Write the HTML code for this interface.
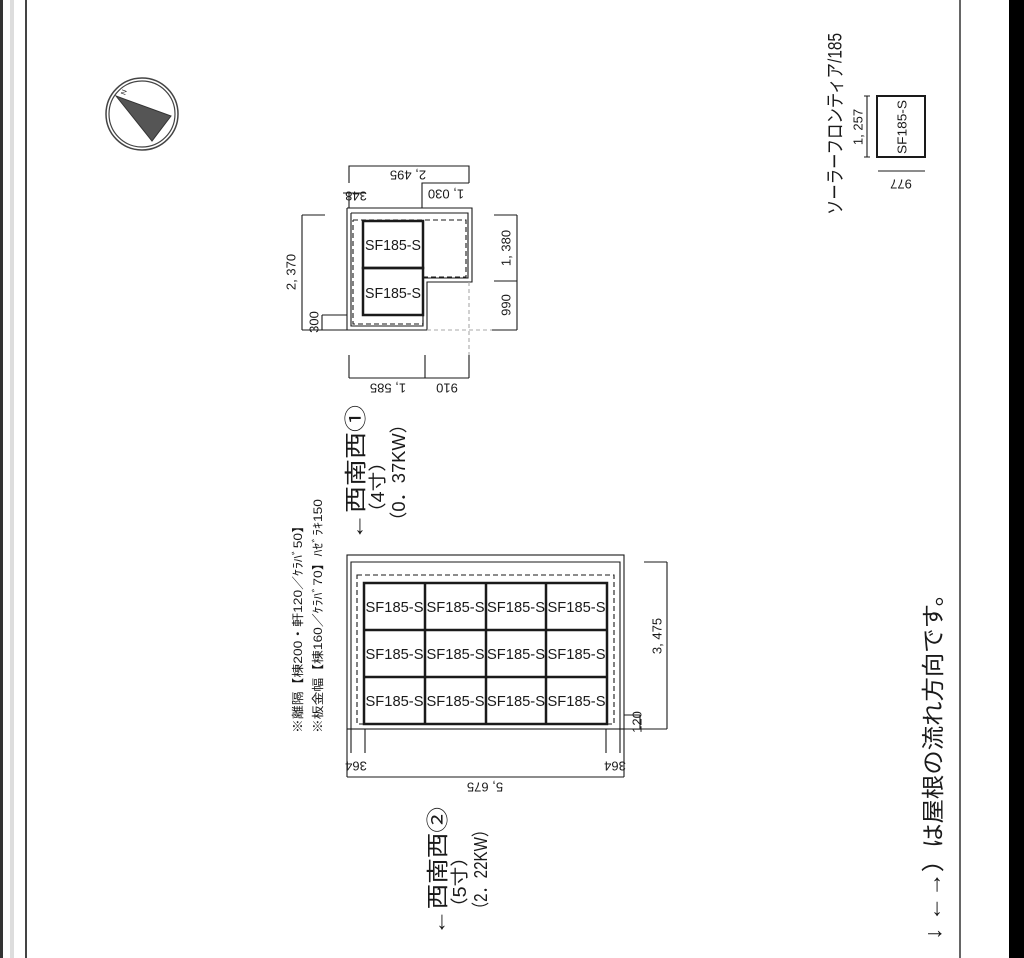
<!DOCTYPE html>
<html><head><meta charset="utf-8"><style>
html,body{margin:0;padding:0;background:#fff;}
svg{display:block;}
text{font-family:"Liberation Sans","Noto Sans CJK JP",sans-serif;fill:#1a1a1a;}
</style></head><body>
<svg width="1024" height="958" viewBox="0 0 1024 958" xmlns="http://www.w3.org/2000/svg">
<rect width="1024" height="958" fill="#fff"/>
<rect x="0" y="0" width="3" height="958" fill="#333"/>
<rect x="10" y="0" width="4" height="958" fill="#ddd"/>
<rect x="25" y="0" width="2" height="958" fill="#444"/>
<rect x="959" y="0" width="2" height="958" fill="#666"/>
<rect x="1009" y="0" width="15" height="958" fill="#000"/>

<circle cx="142" cy="114" r="36" fill="none" stroke="#444" stroke-width="1.5"/>
<circle cx="142" cy="114" r="33" fill="none" stroke="#444" stroke-width="1.2"/>
<polygon points="116,96 171,116 152,141" fill="#555" stroke="#333" stroke-width="1"/>
<text transform="translate(126,93) rotate(-70)" font-size="7" text-anchor="middle">N</text>

<g stroke="#1a1a1a" fill="none" stroke-width="1.1">
<polyline points="349,183 349,166 469,166 469,183"/>
<polyline points="422,208 422,183 469,183"/>
<polyline points="347,208 472,208 472,282 427,282 427,330 347,330 347,208"/>
<polyline points="351,213 468,213 468,278 423,278 423,326 351,326 351,213"/>
<polyline points="353,220 466,220 466,277 423,277 423,324 353,324 353,220" stroke-dasharray="5,3"/>
<path d="M349,193 L349,208 M343,193 L365,193"/>
<rect x="363" y="221" width="60" height="47" stroke-width="2.5"/>
<rect x="363" y="268" width="60" height="47" stroke-width="2.5"/>
<path d="M517,215 L517,330 M494,215 L517,215 M494,281 L517,281 M492,330 L517,330"/>
<path d="M302,215 L302,330 M302,215 L325,215 M302,330 L347,330 M322,315 L322,330 M322,315 L347,315"/>
<path d="M469,282 L469,355 M427,330 L492,330" stroke="#aaa" stroke-dasharray="4,3"/>
<path d="M349,378 L469,378 M349,355 L349,378 M425,355 L425,378 M469,355 L469,378"/>

<rect x="347" y="555" width="277" height="174"/>
<polyline points="351,753 351,562 620,562 620,753"/>
<rect x="357" y="575" width="257" height="149" stroke-dasharray="5,3"/>
<path d="M365,729 L365,753 M606,729 L606,753 M347,729 L347,777 M624,729 L624,777 M347,777 L624,777"/>
<path d="M667,562 L667,729 M644,562 L667,562 M624,729 L667,729 M640,715 L640,729 M624,715 L640,715"/>
<g stroke-width="2.5">
<rect x="364" y="583" width="243" height="141"/>
<path d="M425,583 L425,724 M486,583 L486,724 M546,583 L546,724 M364,630 L607,630 M364,677 L607,677"/>
</g>

<rect x="877" y="96" width="48" height="61" stroke-width="2"/>
<path d="M867,96 L867,157 M864,96 L870,96 M864,157 L870,157 M878,171 L925,171"/>
</g>

<g font-size="13">
<text transform="translate(408,175) rotate(180)" text-anchor="middle" dominant-baseline="central">2, 495</text>
<text transform="translate(356,196) rotate(180)" text-anchor="middle" dominant-baseline="central">348</text>
<text transform="translate(446,194) rotate(180)" text-anchor="middle" dominant-baseline="central">1, 030</text>
<text transform="translate(506,248) rotate(-90)" text-anchor="middle" dominant-baseline="central">1, 380</text>
<text transform="translate(506,305) rotate(-90)" text-anchor="middle" dominant-baseline="central">990</text>
<text transform="translate(291,272) rotate(-90)" text-anchor="middle" dominant-baseline="central">2, 370</text>
<text transform="translate(314,322) rotate(-90)" text-anchor="middle" dominant-baseline="central">300</text>
<text transform="translate(388,388) rotate(180)" text-anchor="middle" dominant-baseline="central">1, 585</text>
<text transform="translate(447,388) rotate(180)" text-anchor="middle" dominant-baseline="central">910</text>
<text x="393" y="250" text-anchor="middle" textLength="56" lengthAdjust="spacingAndGlyphs" font-size="15">SF185-S</text>
<text x="393" y="298" text-anchor="middle" textLength="56" lengthAdjust="spacingAndGlyphs" font-size="15">SF185-S</text>

<text transform="translate(485,787) rotate(180)" text-anchor="middle" dominant-baseline="central">5, 675</text>
<text transform="translate(356,766) rotate(180)" text-anchor="middle" dominant-baseline="central">364</text>
<text transform="translate(615,766) rotate(180)" text-anchor="middle" dominant-baseline="central">364</text>
<text transform="translate(657,636) rotate(-90)" text-anchor="middle" dominant-baseline="central">3, 475</text>
<text transform="translate(637,722) rotate(-90)" text-anchor="middle" dominant-baseline="central">120</text>
<text transform="translate(858,127) rotate(-90)" text-anchor="middle" dominant-baseline="central">1, 257</text>
<text transform="translate(901,184) rotate(180)" text-anchor="middle" dominant-baseline="central">977</text>
<text transform="translate(902,127) rotate(-90)" text-anchor="middle" dominant-baseline="central" textLength="54" lengthAdjust="spacingAndGlyphs">SF185-S</text>
</g>
<g font-size="15" text-anchor="middle">
<text x="394.5" y="612" textLength="58" lengthAdjust="spacingAndGlyphs">SF185-S</text>
<text x="455.5" y="612" textLength="58" lengthAdjust="spacingAndGlyphs">SF185-S</text>
<text x="516" y="612" textLength="58" lengthAdjust="spacingAndGlyphs">SF185-S</text>
<text x="576.5" y="612" textLength="58" lengthAdjust="spacingAndGlyphs">SF185-S</text>
<text x="394.5" y="659" textLength="58" lengthAdjust="spacingAndGlyphs">SF185-S</text>
<text x="455.5" y="659" textLength="58" lengthAdjust="spacingAndGlyphs">SF185-S</text>
<text x="516" y="659" textLength="58" lengthAdjust="spacingAndGlyphs">SF185-S</text>
<text x="576.5" y="659" textLength="58" lengthAdjust="spacingAndGlyphs">SF185-S</text>
<text x="394.5" y="706" textLength="58" lengthAdjust="spacingAndGlyphs">SF185-S</text>
<text x="455.5" y="706" textLength="58" lengthAdjust="spacingAndGlyphs">SF185-S</text>
<text x="516" y="706" textLength="58" lengthAdjust="spacingAndGlyphs">SF185-S</text>
<text x="576.5" y="706" textLength="58" lengthAdjust="spacingAndGlyphs">SF185-S</text>
</g>

<text transform="translate(298,733) rotate(-90)" font-size="12" dominant-baseline="central" textLength="214" lengthAdjust="spacingAndGlyphs">※離隔【棟200・軒120／ｹﾗﾊﾞ50】</text>
<text transform="translate(318,733) rotate(-90)" font-size="12" dominant-baseline="central" textLength="234" lengthAdjust="spacingAndGlyphs">※板金幅【棟160／ｹﾗﾊﾞ70】ﾊｾﾞﾗｷ150</text>

<text transform="translate(356,540) rotate(-90)" font-size="22" dominant-baseline="central" textLength="135" lengthAdjust="spacingAndGlyphs">←西南西①</text>
<text transform="translate(378,522) rotate(-90)" font-size="18" dominant-baseline="central" textLength="70" lengthAdjust="spacingAndGlyphs">（4寸）</text>
<text transform="translate(399,530) rotate(-90)" font-size="18" dominant-baseline="central" textLength="115" lengthAdjust="spacingAndGlyphs">（0．37KW）</text>

<text transform="translate(438,935) rotate(-90)" font-size="22" dominant-baseline="central" textLength="128" lengthAdjust="spacingAndGlyphs">←西南西②</text>
<text transform="translate(460,917) rotate(-90)" font-size="18" dominant-baseline="central" textLength="70" lengthAdjust="spacingAndGlyphs">（5寸）</text>
<text transform="translate(481,917) rotate(-90)" font-size="18" dominant-baseline="central" textLength="95" lengthAdjust="spacingAndGlyphs">（2．22KW）</text>

<text transform="translate(836,215) rotate(-90)" font-size="19" dominant-baseline="central" textLength="182" lengthAdjust="spacingAndGlyphs">ソーラーフロンティア/185</text>
<text transform="translate(933,940) rotate(-90)" font-size="23" dominant-baseline="central" textLength="358" lengthAdjust="spacingAndGlyphs">↓ ←→）は屋根の流れ方向です。</text>
</svg>
</body></html>
